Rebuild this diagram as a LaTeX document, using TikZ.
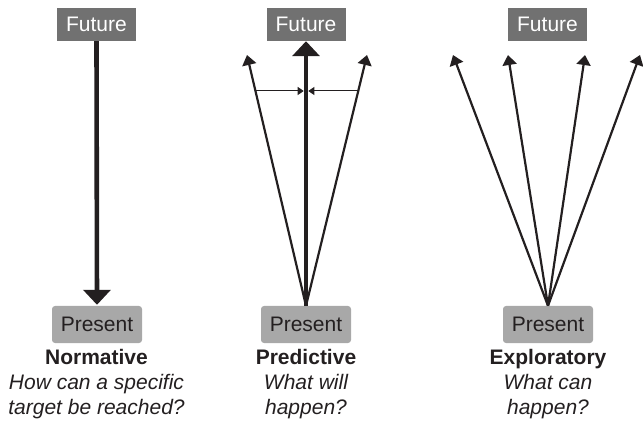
\documentclass[tikz,border=0pt]{standalone}
\usepackage{fontspec}
\setmainfont{Liberation Sans}
\usetikzlibrary{arrows.meta}
\definecolor{ink}{HTML}{231F20}
\definecolor{futgray}{HTML}{717171}
\definecolor{pregray}{HTML}{A8A8A8}
\begin{document}
\begin{tikzpicture}[x=1pt,y=-1pt,
  lbl/.style={font=\fontsize{21}{24}\selectfont},
  futurebox/.style={lbl, fill=futgray, text=white, minimum width=79pt, minimum height=33pt, inner sep=0pt},
  presentbox/.style={lbl, fill=pregray, text=ink, rounded corners=3pt, minimum width=90pt, minimum height=37pt, inner sep=0pt},
  title/.style={lbl, text=ink, font=\fontsize{21}{24}\selectfont\bfseries, anchor=base, inner sep=0pt},
  question/.style={lbl, text=ink, font=\fontsize{21}{24}\selectfont\itshape, anchor=base, inner sep=0pt},
  bigarrow/.style={draw=ink, line width=4.6pt, -{Triangle[length=15pt,width=27pt]}},
  thinarrow/.style={draw=ink, line width=2.2pt, -{Triangle[length=10pt,width=14pt]}},
  gaugearrow/.style={draw=ink, line width=1pt, -{Triangle[length=6pt,width=8pt]}}
]
\useasboundingbox (0,0) rectangle (643,422);

% Normative
\node[futurebox] (F1) at (96.5,24.5) {Future};
\node[presentbox] (P1) at (97,324.5) {Present};
\node[title] (T1) at (96.5,364) {Normative};
\node[question] (Q1a) at (96.5,389) {How can a specific};
\node[question] (Q1b) at (96.5,414) {target be reached?};
\draw[bigarrow, shorten >=1pt] (F1.south) -- (P1.north);

% Predictive
\node[futurebox] (F2) at (306,24.5) {Future};
\node[presentbox] (P2) at (306,324.5) {Present};
\node[title] (T2) at (306,364) {Predictive};
\node[question] (Q2a) at (306,389) {What will};
\node[question] (Q2b) at (306,414) {happen?};
\coordinate (L2) at (247,55);
\coordinate (R2) at (367,55);
\coordinate (GL) at (255.6,91);
\coordinate (GR) at (358.3,91);
\coordinate (GLt) at (303.7,91);
\coordinate (GRt) at (308.3,91);
\draw[thinarrow] (P2.north) -- (L2);
\draw[thinarrow] (P2.north) -- (R2);
\draw[bigarrow] (P2.north) -- (F2.south);
\draw[gaugearrow] (GL) -- (GLt);
\draw[gaugearrow] (GR) -- (GRt);

% Exploratory
\node[futurebox] (F3) at (547.5,24.5) {Future};
\node[presentbox] (P3) at (548,324.5) {Present};
\node[title] (T3) at (548,364) {Exploratory};
\node[question] (Q3a) at (548,389) {What can};
\node[question] (Q3b) at (548,414) {happen?};
\coordinate (E1) at (453,55);
\coordinate (E2) at (508,55);
\coordinate (E3) at (585,55);
\coordinate (E4) at (640,55);
\foreach \e in {E1,E2,E3,E4}
  \draw[thinarrow] (P3.north) -- (\e);
\end{tikzpicture}
\end{document}
